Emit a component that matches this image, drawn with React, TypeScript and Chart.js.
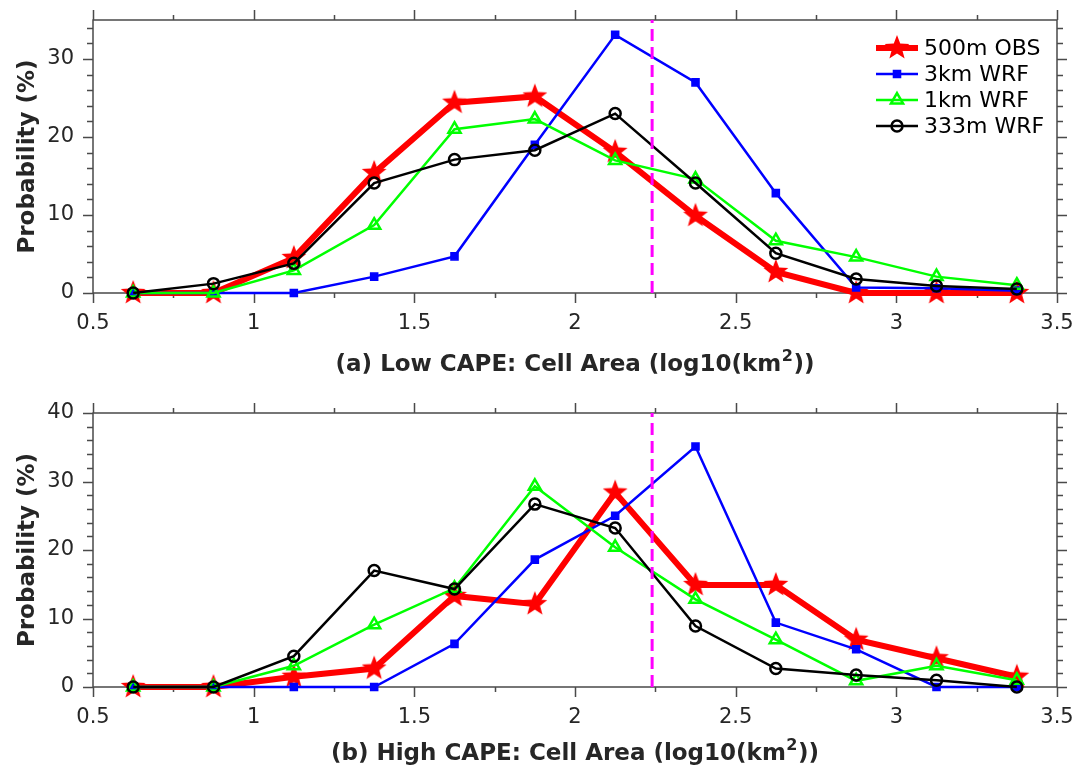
import React, { useEffect, useRef } from 'react';
import { Chart, registerables } from 'chart.js';

Chart.register(...registerables);

// ---------- data ----------
const xCenters = [0.625, 0.875, 1.125, 1.375, 1.625, 1.875, 2.125, 2.375, 2.625, 2.875, 3.125, 3.375];
const seriesNames = ['500m OBS', '3km WRF', '1km WRF', '333m WRF'];

const lowObs = [0, 0, 4.5, 15.4, 24.4, 25.2, 18.1, 9.9, 2.7, 0, 0, 0];
const low3km = [0, 0, 0, 2.1, 4.7, 19.0, 33.1, 27.0, 12.8, 0.7, 0.6, 0.3];
const low1km = [0, 0, 2.9, 8.7, 21.0, 22.3, 17.0, 14.6, 6.7, 4.6, 2.1, 1.0];
const low333m = [0, 1.2, 3.8, 14.1, 17.1, 18.3, 23.0, 14.1, 5.1, 1.8, 0.9, 0.5];

const highObs = [0, 0, 1.5, 2.7, 13.3, 12.1, 28.4, 14.9, 14.9, 6.9, 4.2, 1.5];
const high3km = [0, 0, 0, 0, 6.3, 18.6, 25.0, 35.1, 9.4, 5.5, 0, 0];
const high1km = [0, 0, 3.1, 9.1, 14.4, 29.3, 20.4, 12.8, 6.9, 0.9, 3.1, 1.0];
const high333m = [0, 0, 4.5, 17.0, 14.3, 26.7, 23.2, 8.9, 2.7, 1.75, 1.0, 0];

const thresholdX = 2.24;

const xTickValues = [0.5, 1, 1.5, 2, 2.5, 3, 3.5];
const xMin = 0.5;
const xMax = 3.5;
const xMinorStep = 0.25;
const yMinorStep = 2;
const lowYTicks = [0, 10, 20, 30];
const lowYMax = 35;
const highYTicks = [0, 10, 20, 30, 40];
const highYMax = 40;

// title split into [main, superscript, tail]
const lowTitle = ['(a) Low CAPE: Cell Area (log10(km', '2', '))'];
const highTitle = ['(b) High CAPE: Cell Area (log10(km', '2', '))'];
const yTitle = 'Probability (%)';

// ---------- styles ----------
const AXIS_COLOR = '#4a4a4a';
const TEXT_COLOR = '#262626';
const FONT = "'DejaVu Sans', 'Noto Sans', sans-serif";
const seriesColors = ['#ff0000', '#0000ff', '#00ff00', '#000000'];
const seriesWidths = [6, 2.5, 2.5, 2.5];

function makeStar(outer: number, color: string): HTMLCanvasElement {
  const c = document.createElement('canvas');
  const size = Math.ceil(outer * 2 + 2);
  c.width = size;
  c.height = size;
  const ctx = c.getContext('2d')!;
  const cx = size / 2;
  const cy = size / 2;
  const inner = outer * 0.42;
  ctx.beginPath();
  for (let i = 0; i < 10; i++) {
    const r = i % 2 === 0 ? outer : inner;
    const a = -Math.PI / 2 + (i * Math.PI) / 5;
    const px = cx + r * Math.cos(a);
    const py = cy + r * Math.sin(a);
    if (i === 0) ctx.moveTo(px, py);
    else ctx.lineTo(px, py);
  }
  ctx.closePath();
  ctx.fillStyle = color;
  ctx.fill();
  return c;
}

function drawMarker(ctx: CanvasRenderingContext2D, kind: number, x: number, y: number, star: HTMLCanvasElement) {
  ctx.save();
  if (kind === 0) {
    ctx.drawImage(star, x - star.width / 2, y - star.height / 2);
  } else if (kind === 1) {
    const s = 5 * Math.SQRT1_2;
    ctx.fillStyle = seriesColors[1];
    ctx.strokeStyle = seriesColors[1];
    ctx.lineWidth = 1.5;
    ctx.beginPath();
    ctx.rect(x - s, y - s, 2 * s, 2 * s);
    ctx.fill();
    ctx.stroke();
  } else if (kind === 2) {
    const r = 7;
    ctx.strokeStyle = seriesColors[2];
    ctx.lineWidth = 2.5;
    ctx.beginPath();
    ctx.moveTo(x, y - r);
    ctx.lineTo(x + r * Math.cos(Math.PI / 6), y + r / 2);
    ctx.lineTo(x - r * Math.cos(Math.PI / 6), y + r / 2);
    ctx.closePath();
    ctx.stroke();
  } else {
    ctx.strokeStyle = seriesColors[3];
    ctx.lineWidth = 2.5;
    ctx.beginPath();
    ctx.arc(x, y, 5.5, 0, Math.PI * 2);
    ctx.stroke();
  }
  ctx.restore();
}

const axisFramePlugin = {
  id: 'axisFrame',
  beforeDatasetsDraw(chart: any) {
    const { ctx, chartArea } = chart;
    const { left, right, top, bottom } = chartArea;
    const xs = chart.scales.x;
    const ys = chart.scales.y;
    ctx.save();
    ctx.strokeStyle = AXIS_COLOR;
    ctx.lineWidth = 1.5;
    ctx.beginPath();
    ctx.rect(left, top, right - left, bottom - top);
    const nx = Math.round((xMax - xMin) / xMinorStep);
    for (let i = 0; i <= nx; i++) {
      const v = xMin + i * xMinorStep;
      const len = i % 2 === 0 ? 10 : 5;
      const px = Math.round(xs.getPixelForValue(v)) + 0.5;
      ctx.moveTo(px, bottom);
      ctx.lineTo(px, bottom + len);
      ctx.moveTo(px, top);
      ctx.lineTo(px, top - len);
    }
    const ny = Math.floor(ys.max / yMinorStep);
    for (let i = 0; i <= ny; i++) {
      const v = i * yMinorStep;
      const len = v % 10 === 0 ? 10 : 6;
      const py = Math.round(ys.getPixelForValue(v)) + 0.5;
      ctx.moveTo(left, py);
      ctx.lineTo(left - len, py);
      ctx.moveTo(right, py);
      ctx.lineTo(right + len, py);
    }
    ctx.stroke();
    ctx.restore();
  },
};

const xTitlePlugin = {
  id: 'xTitle',
  afterDraw(chart: any, _args: any, opts: any) {
    if (!opts || !opts.parts) return;
    const ctx = chart.ctx as CanvasRenderingContext2D;
    const [main, sup, tail] = opts.parts as string[];
    const { left, right } = chart.chartArea;
    const cx = (left + right) / 2;
    const y = opts.y as number;
    ctx.save();
    ctx.fillStyle = TEXT_COLOR;
    ctx.textBaseline = 'alphabetic';
    ctx.textAlign = 'left';
    const mainFont = `bold 23px ${FONT}`;
    const supFont = `bold 16px ${FONT}`;
    ctx.font = mainFont;
    const wMain = ctx.measureText(main).width;
    const wTail = ctx.measureText(tail).width;
    ctx.font = supFont;
    const wSup = ctx.measureText(sup).width;
    const total = wMain + wSup + wTail + 1;
    let x = cx - total / 2;
    ctx.font = mainFont;
    ctx.fillText(main, x, y);
    x += wMain;
    ctx.font = supFont;
    ctx.fillText(sup, x + 0.5, y - 10);
    x += wSup + 1;
    ctx.font = mainFont;
    ctx.fillText(tail, x, y);
    ctx.restore();
  },
};

const lineLegendPlugin = {
  id: 'lineLegend',
  afterDraw(chart: any, _args: any, opts: any) {
    if (!opts || !opts.show) return;
    const ctx = chart.ctx as CanvasRenderingContext2D;
    const star = opts.star as HTMLCanvasElement;
    const x0 = 876;
    const x1 = 918;
    const ys = [48, 74, 100, 126];
    ctx.save();
    seriesNames.forEach((name, i) => {
      const y = ys[i];
      ctx.strokeStyle = seriesColors[i];
      ctx.lineWidth = seriesWidths[i];
      ctx.beginPath();
      ctx.moveTo(x0, y);
      ctx.lineTo(x1, y);
      ctx.stroke();
      drawMarker(ctx, i, (x0 + x1) / 2, y, star);
      ctx.fillStyle = '#000';
      ctx.font = `22px ${FONT}`;
      ctx.textBaseline = 'middle';
      ctx.textAlign = 'left';
      ctx.fillText(name, 924, y + 1);
    });
    ctx.restore();
  },
};

type PanelCfg = {
  series: number[][];
  yMax: number;
  yTicks: number[];
  title: string[];
  titleBaseline: number;
  height: number;
  padTop: number;
  xAxisHeight: number;
  legend: boolean;
};

function buildChart(canvas: HTMLCanvasElement, cfg: PanelCfg) {
  const star = makeStar(13, '#ff0000');
  const toPts = (vals: number[]) => xCenters.map((x, i) => ({ x, y: vals[i] }));
  const datasets: any[] = cfg.series.map((vals, i) => ({
    label: seriesNames[i],
    data: toPts(vals),
    borderColor: seriesColors[i],
    borderWidth: seriesWidths[i],
    backgroundColor: i === 1 ? seriesColors[1] : 'rgba(0,0,0,0)',
    pointStyle: i === 0 ? star : i === 1 ? 'rect' : i === 2 ? 'triangle' : 'circle',
    pointRadius: i === 0 ? 13 : i === 1 ? 5 : i === 2 ? 7 : 5.5,
    pointBorderWidth: i === 1 ? 1.5 : 2.5,
    pointBorderColor: seriesColors[i],
    pointBackgroundColor: i === 1 ? seriesColors[1] : 'rgba(0,0,0,0)',
    tension: 0,
    clip: false,
    order: 4 - i,
  }));
  datasets.push({
    label: 'threshold',
    data: [
      { x: thresholdX, y: 0 },
      { x: thresholdX, y: cfg.yMax },
    ],
    borderColor: '#ff00ff',
    borderWidth: 3,
    borderDash: [12, 6],
    pointRadius: 0,
    order: 0,
  });

  return new Chart(canvas, {
    type: 'line',
    data: { datasets },
    options: {
      animation: false,
      responsive: false,
      devicePixelRatio: 1,
      events: [],
      layout: { padding: { left: 0, right: 31, top: cfg.padTop, bottom: 0 } },
      plugins: {
        legend: { display: false },
        tooltip: { enabled: false },
        lineLegend: { show: cfg.legend, star },
        xTitle: { parts: cfg.title, y: cfg.titleBaseline },
      } as any,
      scales: {
        x: {
          type: 'linear',
          min: xMin,
          max: xMax,
          grid: { display: false, drawTicks: false },
          border: { display: false },
          afterBuildTicks: (scale: any) => {
            scale.ticks = xTickValues.map((v) => ({ value: v }));
          },
          afterFit: (scale: any) => {
            scale.height = cfg.xAxisHeight;
            scale.paddingLeft = 0;
            scale.paddingRight = 0;
          },
          ticks: {
            padding: 18,
            maxRotation: 0,
            autoSkip: false,
            color: TEXT_COLOR,
            font: { family: FONT, size: 21 },
            callback: (v: any) => String(v),
          },
          title: { display: false },
        },
        y: {
          type: 'linear',
          min: 0,
          max: cfg.yMax,
          grid: { display: false, drawTicks: false },
          border: { display: false },
          afterBuildTicks: (scale: any) => {
            scale.ticks = cfg.yTicks.map((v) => ({ value: v }));
          },
          afterFit: (scale: any) => {
            scale.width = 93;
            scale.paddingTop = 0;
            scale.paddingBottom = 0;
          },
          ticks: {
            padding: 19,
            color: TEXT_COLOR,
            font: { family: FONT, size: 21 },
            callback: (v: any) => String(v),
          },
          title: {
            display: true,
            text: yTitle,
            color: TEXT_COLOR,
            font: { family: FONT, size: 23, weight: 'bold' },
            padding: { top: 14, bottom: 0 },
          },
        },
      },
    } as any,
    plugins: [axisFramePlugin, lineLegendPlugin, xTitlePlugin],
  });
}

function Panel({ cfg, top }: { cfg: PanelCfg; top: number }) {
  const ref = useRef<HTMLCanvasElement | null>(null);
  useEffect(() => {
    if (!ref.current) return;
    const chart = buildChart(ref.current, cfg);
    return () => chart.destroy();
  }, [cfg]);
  return (
    <canvas
      ref={ref}
      width={1088}
      height={cfg.height}
      style={{ position: 'absolute', left: 0, top, width: 1088, height: cfg.height }}
    />
  );
}

const lowCfg: PanelCfg = {
  series: [lowObs, low3km, low1km, low333m],
  yMax: lowYMax,
  yTicks: lowYTicks,
  title: lowTitle,
  titleBaseline: 371,
  height: 390,
  padTop: 20,
  xAxisHeight: 97,
  legend: true,
};

const highCfg: PanelCfg = {
  series: [highObs, high3km, high1km, high333m],
  yMax: highYMax,
  yTicks: highYTicks,
  title: highTitle,
  titleBaseline: 370,
  height: 379,
  padTop: 23,
  xAxisHeight: 82,
  legend: false,
};

export default function App() {
  return (
    <div
      style={{
        position: 'fixed',
        left: 0,
        top: 0,
        width: 1088,
        height: 769,
        background: '#ffffff',
        overflow: 'hidden',
      }}
    >
      <Panel cfg={lowCfg} top={0} />
      <Panel cfg={highCfg} top={390} />
    </div>
  );
}
